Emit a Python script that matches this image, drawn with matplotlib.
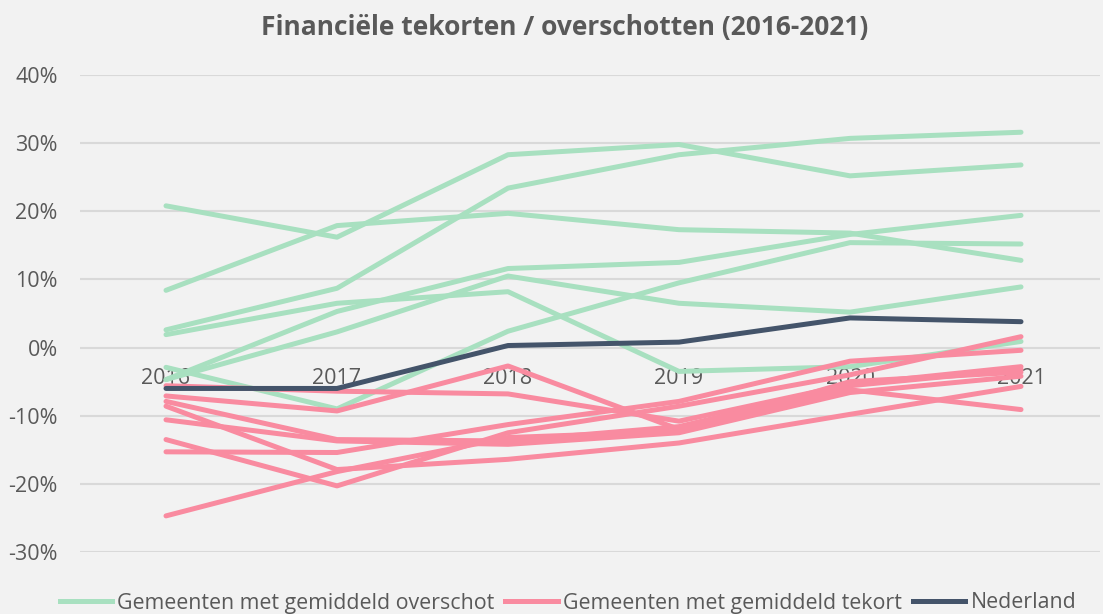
import matplotlib
matplotlib.use("Agg")
import matplotlib.pyplot as plt
from matplotlib.lines import Line2D

plt.rcParams['font.family'] = ['Open Sans', 'DejaVu Sans']

years = ["2016", "2017", "2018", "2019", "2020", "2021"]

# Gemeenten met gemiddeld overschot (%)
overschot = [
    [20.8, 16.2, 28.3, 29.8, 25.2, 26.8],
    [8.4, 17.9, 19.7, 17.3, 16.8, 12.8],
    [2.6, 8.7, 23.4, 28.3, 30.7, 31.6],
    [1.9, 6.5, 8.2, -3.5, -2.8, 0.9],
    [-2.9, -9.0, 2.4, 9.5, 15.4, 15.2],
    [-4.7, 5.3, 11.6, 12.5, 16.6, 19.4],
    [-4.7, 2.3, 10.5, 6.5, 5.2, 8.9],
]

# Gemeenten met gemiddeld tekort (%)
tekort = [
    [-5.6, -6.4, -6.8, -10.8, -5.4, -2.8],
    [-7.1, -9.3, -2.7, -12.0, -6.2, -9.1],
    [-7.9, -13.5, -13.7, -11.6, -5.6, -3.2],
    [-10.6, -13.7, -14.2, -12.5, -6.6, -4.2],
    [-15.3, -15.4, -11.3, -7.9, -2.0, -0.4],
    [-8.6, -17.9, -16.4, -14.0, -9.8, -5.7],
    [-24.7, -18.2, -13.2, -12.3, -5.0, -3.6],
    [-13.5, -20.3, -12.5, -8.6, -4.0, 1.6],
]

nederland = [-6.0, -6.0, 0.3, 0.8, 4.35, 3.8]

y_ticks = [-30, -20, -10, 0, 10, 20, 30, 40]
y_labels = ["-30%", "-20%", "-10%", "0%", "10%", "20%", "30%", "40%"]

labels = ["Gemeenten met gemiddeld overschot", "Gemeenten met gemiddeld tekort", "Nederland"]
c_green = "#A8E0C0"
c_pink = "#F98BA0"
c_navy = "#44546A"
c_text = "#595959"
bg = "#F2F2F2"

W, H = 1103, 614
fig = plt.figure(figsize=(W / 100, H / 100), dpi=100, facecolor=bg)
ax = fig.add_axes([80 / W, (H - 552) / H, (1100 - 80) / W, (552 - 75) / H], facecolor=bg)

x = list(range(len(years)))
lw = 3.6
for s in overschot:
    ax.plot(x, s, color=c_green, lw=lw, solid_capstyle='round', solid_joinstyle='round', zorder=3)
for s in tekort:
    ax.plot(x, s, color=c_pink, lw=lw, solid_capstyle='round', solid_joinstyle='round', zorder=4)
ax.plot(x, nederland, color=c_navy, lw=lw, solid_capstyle='round', solid_joinstyle='round', zorder=5)

ax.set_ylim(-30, 40)
ax.set_xlim(-(166 - 80) / 171, 5 + (1100 - 1021) / 171)
ax.set_yticks(y_ticks)
ax.set_yticklabels(y_labels)
ax.set_xticks(x)
ax.set_xticklabels(years)

ax.grid(axis='y', color='#D9D9D9', lw=1.5, zorder=1)
ax.set_axisbelow(True)
for sp in ['top', 'right', 'left']:
    ax.spines[sp].set_visible(False)
ax.spines['bottom'].set_position(('data', 0))
ax.spines['bottom'].set_color('none')
ax.tick_params(axis='both', length=0, labelsize=15.5, colors=c_text)
ax.tick_params(axis='x', pad=15)
ax.tick_params(axis='y', pad=16)
for t in ax.get_xticklabels():
    t.set_zorder(2)

fig.text(565 / W, 1 - 27 / H, "Financiële tekorten / overschotten (2016-2021)",
         ha='center', va='center', fontsize=19, fontweight='bold', color=c_text)

handles = [Line2D([0], [0], color=c, lw=lw) for c in (c_green, c_pink, c_navy)]
fig.legend(handles, labels, loc='center', bbox_to_anchor=(568 / W, 1 - 603 / H), ncol=3,
           frameon=False, fontsize=15.4, labelcolor=c_text, handlelength=2.45,
           handletextpad=0.25, columnspacing=0.5, borderaxespad=0)

fig.savefig("out.png", dpi=100, facecolor=bg)
